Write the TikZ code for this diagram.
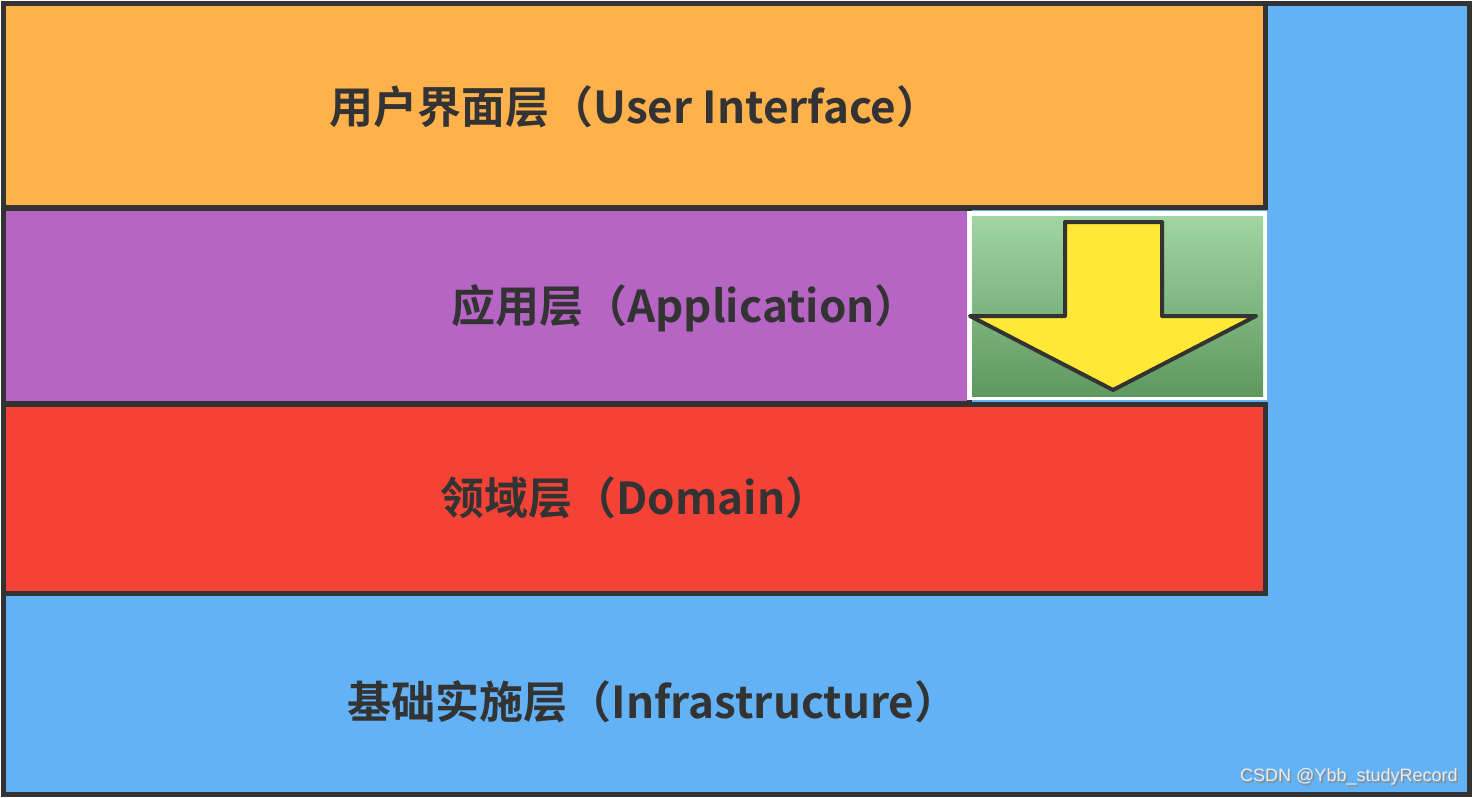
\documentclass[tikz,border=0pt]{standalone}
\usepackage{fontspec}
\newfontfamily\cjk{Noto Sans CJK SC}[BoldFont={* Bold}]
\usetikzlibrary{shadings}
\definecolor{uiorange}{HTML}{FFB24C}
\definecolor{apppurple}{HTML}{B765C5}
\definecolor{domred}{HTML}{F44336}
\definecolor{infblue}{HTML}{62B2F5}
\definecolor{edge}{HTML}{333333}
\definecolor{gtop}{HTML}{A2D5A0}
\definecolor{gbot}{HTML}{5E985F}
\definecolor{arrowyellow}{HTML}{FFE836}
\tikzset{
  layer/.style={draw=edge, line width=2.5pt},
  lbl/.style={font=\cjk\bfseries\fontsize{22}{24}\selectfont, text=edge, inner sep=0pt},
}
\begin{document}
\begin{tikzpicture}[x=0.5pt,y=-0.5pt]
\useasboundingbox (0,0) rectangle (1474,798);
\fill[white] (0,0) rectangle (1474,798);
% infrastructure background
\draw[layer, fill=infblue] (3,3) rectangle (1469,794);
\node[lbl] (inf) at (653,702) {基础实施层（Infrastructure）};
% user interface
\draw[layer, fill=uiorange] (3,3) rectangle (1265,207);
\node[lbl] (ui) at (635,107) {用户界面层（User Interface）};
% application
\draw[layer, fill=apppurple] (3,208) rectangle (969,403);
\node[lbl] (app) at (685,308) {应用层（Application）};
% domain
\draw[layer, fill=domred] (3,404) rectangle (1265,593);
\node[lbl] (dom) at (635,498) {领域层（Domain）};
% green box with arrow
\fill[white] (967,211) rectangle (1267,400);
\shade[top color=gtop, bottom color=gbot] (972,216) rectangle (1263,396);
\draw[edge, line width=2pt, line join=round, fill=arrowyellow]
  (1065,222) -- (1162,222) -- (1162,316) -- (1256,316) -- (1113,390)
  -- (970,316) -- (1065,316) -- cycle;
% watermark
\node[font=\fontspec{Liberation Sans}\fontsize{9}{10}\selectfont, text=black!45, anchor=east, inner sep=0pt] at (1459.5,778.5) {CSDN @Ybb\_studyRecord};
\node[font=\fontspec{Liberation Sans}\fontsize{9}{10}\selectfont, text=white!92!black, anchor=east, inner sep=0pt] (wm) at (1458,777) {CSDN @Ybb\_studyRecord};
\end{tikzpicture}
\end{document}
